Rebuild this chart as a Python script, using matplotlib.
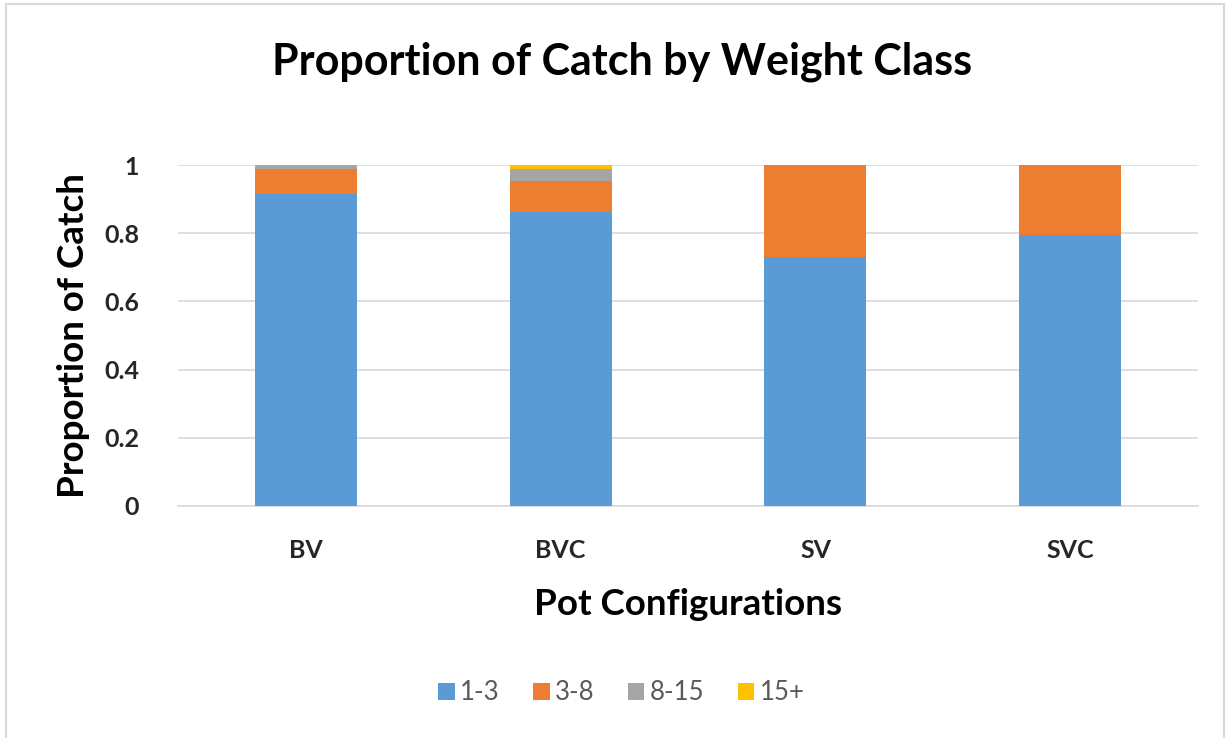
import matplotlib.pyplot as plt
import numpy as np
from matplotlib.patches import Rectangle

# data
configs = ['BV', 'BVC', 'SV', 'SVC']
classes = ['1-3', '3-8', '8-15', '15+']
w_1_3 = [0.915, 0.862, 0.731, 0.795]
w_3_8 = [0.074, 0.092, 0.269, 0.205]
w_8_15 = [0.011, 0.034, 0.0, 0.0]
w_15p = [0.0, 0.012, 0.0, 0.0]

colors = ['#5B9BD5', '#ED7D31', '#A5A5A5', '#FFC000']

plt.rcParams['font.family'] = ['Lato', 'DejaVu Sans']

fig = plt.figure(figsize=(12.3, 7.38), dpi=100)
ax = fig.add_axes([178/1230, 1-505.7/738, 1020/1230, 340.5/738])

x = np.arange(len(configs))
bottom = np.zeros(len(configs))
for vals, lab, c in zip([w_1_3, w_3_8, w_8_15, w_15p], classes, colors):
    ax.bar(x, vals, width=0.4, bottom=bottom, color=c, label=lab, zorder=3)
    bottom += np.array(vals)

ax.set_xlim(-0.5, 3.5)
ax.set_ylim(0, 1)
ax.set_yticks([0, 0.2, 0.4, 0.6, 0.8, 1])
ax.set_yticklabels(['0', '0.2', '0.4', '0.6', '0.8', '1'])
ax.set_xticks(x)
ax.set_xticklabels(configs)
ax.grid(axis='y', color='#d9d9d9', linewidth=1.2, zorder=0)
for s in ['top', 'right', 'left']:
    ax.spines[s].set_visible(False)
ax.spines['bottom'].set_color('#d9d9d9')
ax.spines['bottom'].set_linewidth(1.2)
ax.tick_params(axis='both', length=0, labelsize=18, colors='#262626')
for t in ax.get_xticklabels() + ax.get_yticklabels():
    t.set_fontweight('bold')
ax.tick_params(axis='x', pad=24)
ax.tick_params(axis='y', pad=28)

ax.set_ylabel('Proportion of Catch', fontsize=26.5, fontweight='bold', color='black', labelpad=10)
ax.set_xlabel('Pot Configurations', fontsize=26.5, fontweight='bold', color='black', labelpad=19)

fig.text(0.506, 1-62/738, 'Proportion of Catch by Weight Class', ha='center', va='center',
         fontsize=31, fontweight='bold')

leg = fig.legend(loc='center', bbox_to_anchor=(0.505, 1-693/738), ncol=4, frameon=False,
                 fontsize=18.5, handlelength=0.65, handleheight=0.65, handletextpad=0.2, columnspacing=1.3)
for t in leg.get_texts():
    t.set_color('#595959')

fig.patches.append(Rectangle((6/1230, -0.01), 1218/1230, 1-4/738+0.01, transform=fig.transFigure,
                             fill=False, edgecolor='#d9d9d9', linewidth=1.5))

fig.savefig('out.png', dpi=100)
